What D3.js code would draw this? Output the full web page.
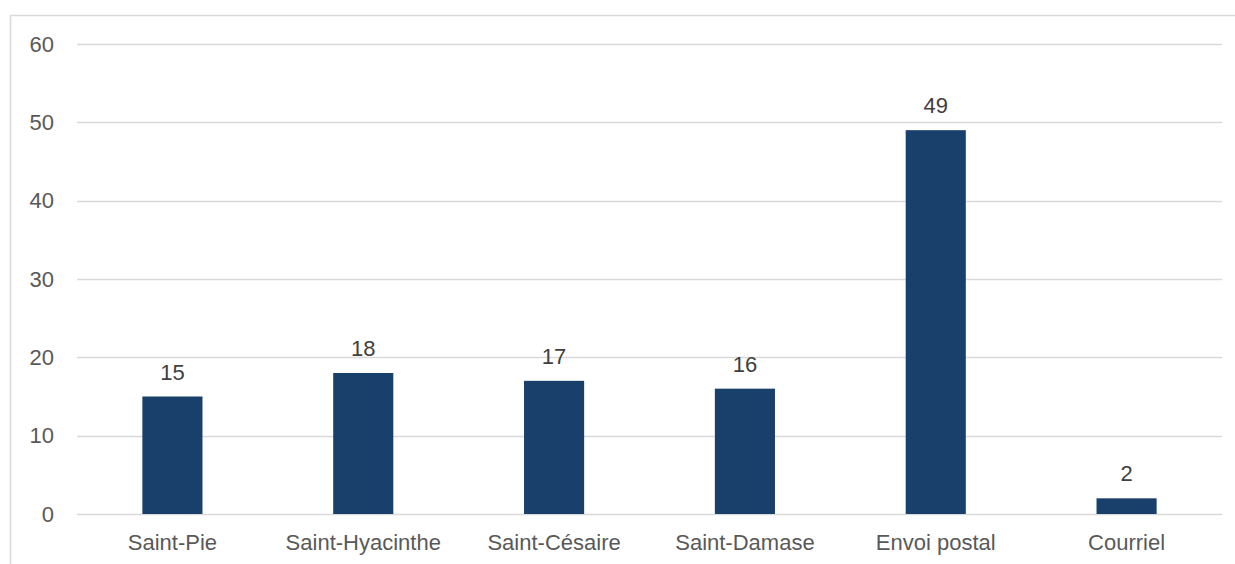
<!DOCTYPE html>
<html>
<head>
<meta charset="utf-8">
<script src="https://cdn.jsdelivr.net/npm/d3@7"></script>
<style>
  body { margin: 0; background: #fff; }
  text { font-family: "Liberation Sans", Arial, sans-serif; fill: #595959; }
</style>
</head>
<body>
<div id="vis1"></div>
<script>
// data
const CATEGORIES = ["Saint-Pie", "Saint-Hyacinthe", "Saint-Césaire", "Saint-Damase", "Envoi postal", "Courriel"];
const VALUES = [15, 18, 17, 16, 49, 2];
const Y_TICKS = [0, 10, 20, 30, 40, 50, 60];

// frame constants
const FRAME_WIDTH = 1235;
const FRAME_HEIGHT = 564;
const MARGINS = {left: 77, right: 13, top: 44, bottom: 50};
const VIS_WIDTH = FRAME_WIDTH - MARGINS.left - MARGINS.right;
const VIS_HEIGHT = FRAME_HEIGHT - MARGINS.top - MARGINS.bottom;
const FONT = "'Liberation Sans', Arial, sans-serif";

const FRAME1 = d3.select("#vis1")
  .append("svg")
    .attr("width", FRAME_WIDTH)
    .attr("height", FRAME_HEIGHT);

// outer chart border (only left and top are visible)
FRAME1.append("rect")
  .attr("x", 10.5)
  .attr("y", 15.5)
  .attr("width", FRAME_WIDTH + 20)
  .attr("height", FRAME_HEIGHT + 20)
  .attr("fill", "none")
  .attr("stroke", "#d9d9d9")
  .attr("stroke-width", 1.5);

const g = FRAME1.append("g")
  .attr("transform", "translate(" + MARGINS.left + "," + MARGINS.top + ")");

// scales
const x = d3.scaleBand()
  .domain(CATEGORIES)
  .range([0, VIS_WIDTH])
  .paddingInner(0.685)
  .paddingOuter(0.3425);

const y = d3.scaleLinear()
  .domain([0, 60])
  .range([VIS_HEIGHT, 0]);

// gridlines
g.append("g")
  .selectAll("line")
  .data(Y_TICKS)
  .enter()
  .append("line")
    .attr("x1", 0)
    .attr("x2", VIS_WIDTH)
    .attr("y1", d => Math.round(y(d)) + 0.5)
    .attr("y2", d => Math.round(y(d)) + 0.5)
    .attr("stroke", "#d9d9d9")
    .attr("stroke-width", 1.5);

// y axis labels
const yAxis = g.append("g")
  .call(d3.axisLeft(y).tickValues(Y_TICKS).tickSize(0).tickPadding(23));
yAxis.select(".domain").remove();
yAxis.selectAll("text")
  .attr("fill", "#595959")
  .style("font-size", "22px")
  .style("font-family", FONT);

// bars
g.selectAll(".bar")
  .data(VALUES)
  .enter()
  .append("rect")
    .attr("class", "bar")
    .attr("x", (d, i) => x(CATEGORIES[i]))
    .attr("y", d => y(d))
    .attr("width", x.bandwidth())
    .attr("height", d => VIS_HEIGHT - y(d))
    .attr("fill", "#193f6b");

// value labels
g.selectAll(".val")
  .data(VALUES)
  .enter()
  .append("text")
    .attr("class", "val")
    .attr("x", (d, i) => x(CATEGORIES[i]) + x.bandwidth() / 2)
    .attr("y", d => y(d) - 17)
    .attr("text-anchor", "middle")
    .style("font-size", "22px")
    .style("fill", "#404040")
    .text(d => d);

// x axis labels
const xAxis = g.append("g")
  .attr("transform", "translate(0," + VIS_HEIGHT + ")")
  .call(d3.axisBottom(x).tickSize(0).tickPadding(20));
xAxis.select(".domain").remove();
xAxis.selectAll("text")
  .attr("fill", "#595959")
  .style("font-size", "22px")
  .style("font-family", FONT);
</script>
</body>
</html>
